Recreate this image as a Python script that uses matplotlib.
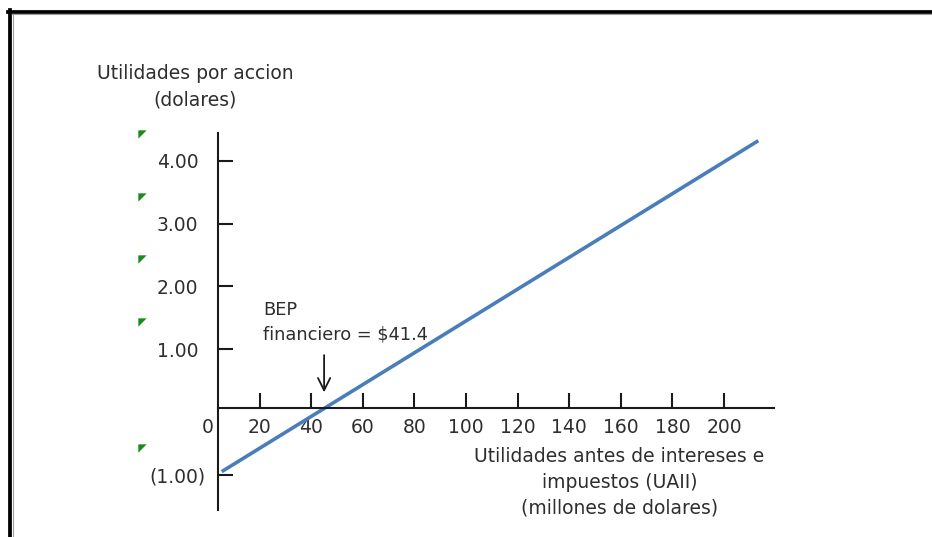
import matplotlib
matplotlib.use("Agg")
import matplotlib.pyplot as plt
from matplotlib.lines import Line2D
from matplotlib.path import Path

# ---- data ----
uaii = [5.3, 213.3]          # EBIT (millions of dollars), endpoints of the line
upa = [-0.95, 4.32]          # EPS (dollars)
x_ticks = [0, 20, 40, 60, 80, 100, 120, 140, 160, 180, 200]
x_tick_labels = ["0", "20", "40", "60", "80", "100", "120", "140", "160", "180", "200"]
y_ticks = [-1, 1, 2, 3, 4]
y_tick_labels = ["(1.00)", "1.00", "2.00", "3.00", "4.00"]
bep_text = "BEP\nfinanciero = $41.4"
bep_arrow_x = 45.0
y_title = "Utilidades por accion\n(dolares)"
x_title = "Utilidades antes de intereses e\nimpuestos (UAII)\n(millones de dolares)"

W, H, DPI = 932, 537, 100
fig = plt.figure(figsize=(W / DPI, H / DPI), dpi=DPI)
ax = fig.add_axes([0, 0, 1, 1])
ax.set_facecolor("none")

# pixel mapping: x_px = 208 + 2.58*x ; y_px(top) = 412 - 62.8*y
ax.set_xlim(-208 / 2.58, (W - 208) / 2.58)
ax.set_ylim((412 - H) / 62.8, 412 / 62.8)

txt = "#2e2e2e"
axc = "#1a1a1a"
plt.rcParams["font.family"] = "DejaVu Sans"

for s in ["top", "right"]:
    ax.spines[s].set_visible(False)
ax.spines["left"].set_position(("data", 3.9))
ax.spines["bottom"].set_position(("data", 0.06))
ax.spines["left"].set_bounds(-1.56, 4.45)
ax.spines["bottom"].set_bounds(3.9, 219.5)
for s in ["left", "bottom"]:
    ax.spines[s].set_color(axc)
    ax.spines[s].set_linewidth(1.5)

ax.set_xticks(x_ticks)
ax.set_xticklabels(x_tick_labels)
ax.set_yticks(y_ticks)
ax.set_yticklabels(y_tick_labels)
ax.tick_params(axis="x", direction="in", length=10.5, width=1.5, color=axc,
               pad=7, labelsize=13.5, labelcolor=txt)
ax.tick_params(axis="y", direction="in", length=10.5, width=1.5, color=axc,
               pad=29, labelsize=13.5, labelcolor=txt)
for lab in ax.get_yticklabels():
    lab.set_horizontalalignment("center")
ax.xaxis.get_major_ticks()[0].tick1line.set_visible(False)

# main line
ax.plot(uaii, upa, color="#4a7ebb", lw=2.6, solid_capstyle="butt")

# green cell-indicator triangles
tri = Path([(-1, 1), (1, 1), (-1, -1), (-1, 1)],
           [Path.MOVETO, Path.LINETO, Path.LINETO, Path.CLOSEPOLY])
ax.plot([-25.4] * len(y_ticks), [t + 0.43 for t in y_ticks], ls="none",
        marker=tri, markersize=6, color="#1a8a1a", markeredgewidth=0)

# BEP annotation
ax.text(21.5, 1.43, bep_text, fontsize=12.8, color=txt, ha="left", va="center",
        linespacing=1.45)
ax.annotate("", xy=(bep_arrow_x, 0.27), xytext=(bep_arrow_x, 0.95),
            arrowprops=dict(arrowstyle="->", color=axc, lw=1.3,
                            mutation_scale=22))

# axis titles
ax.text(-5, 5.18, y_title, fontsize=13.5, color=txt, ha="center", va="center",
        linespacing=1.5)
ax.text(159.5, -1.12, x_title, fontsize=13.5, color=txt, ha="center", va="center",
        linespacing=1.45)

# outer frame (top and left)
fig.add_artist(Line2D([8 / W, 1], [1 - 11.5 / H, 1 - 11.5 / H], color="black",
                      lw=2.7, transform=fig.transFigure))
fig.add_artist(Line2D([10 / W, 10 / W], [1 - 10 / H, 0], color="black",
                      lw=2.7, transform=fig.transFigure))
fig.add_artist(Line2D([12 / W, 1], [1 - 14 / H, 1 - 14 / H], color="#a0a0a0",
                      lw=0.8, transform=fig.transFigure))
fig.add_artist(Line2D([12.5 / W, 12.5 / W], [1 - 14 / H, 0], color="#a0a0a0",
                      lw=0.8, transform=fig.transFigure))

fig.savefig("out.png", dpi=DPI)
